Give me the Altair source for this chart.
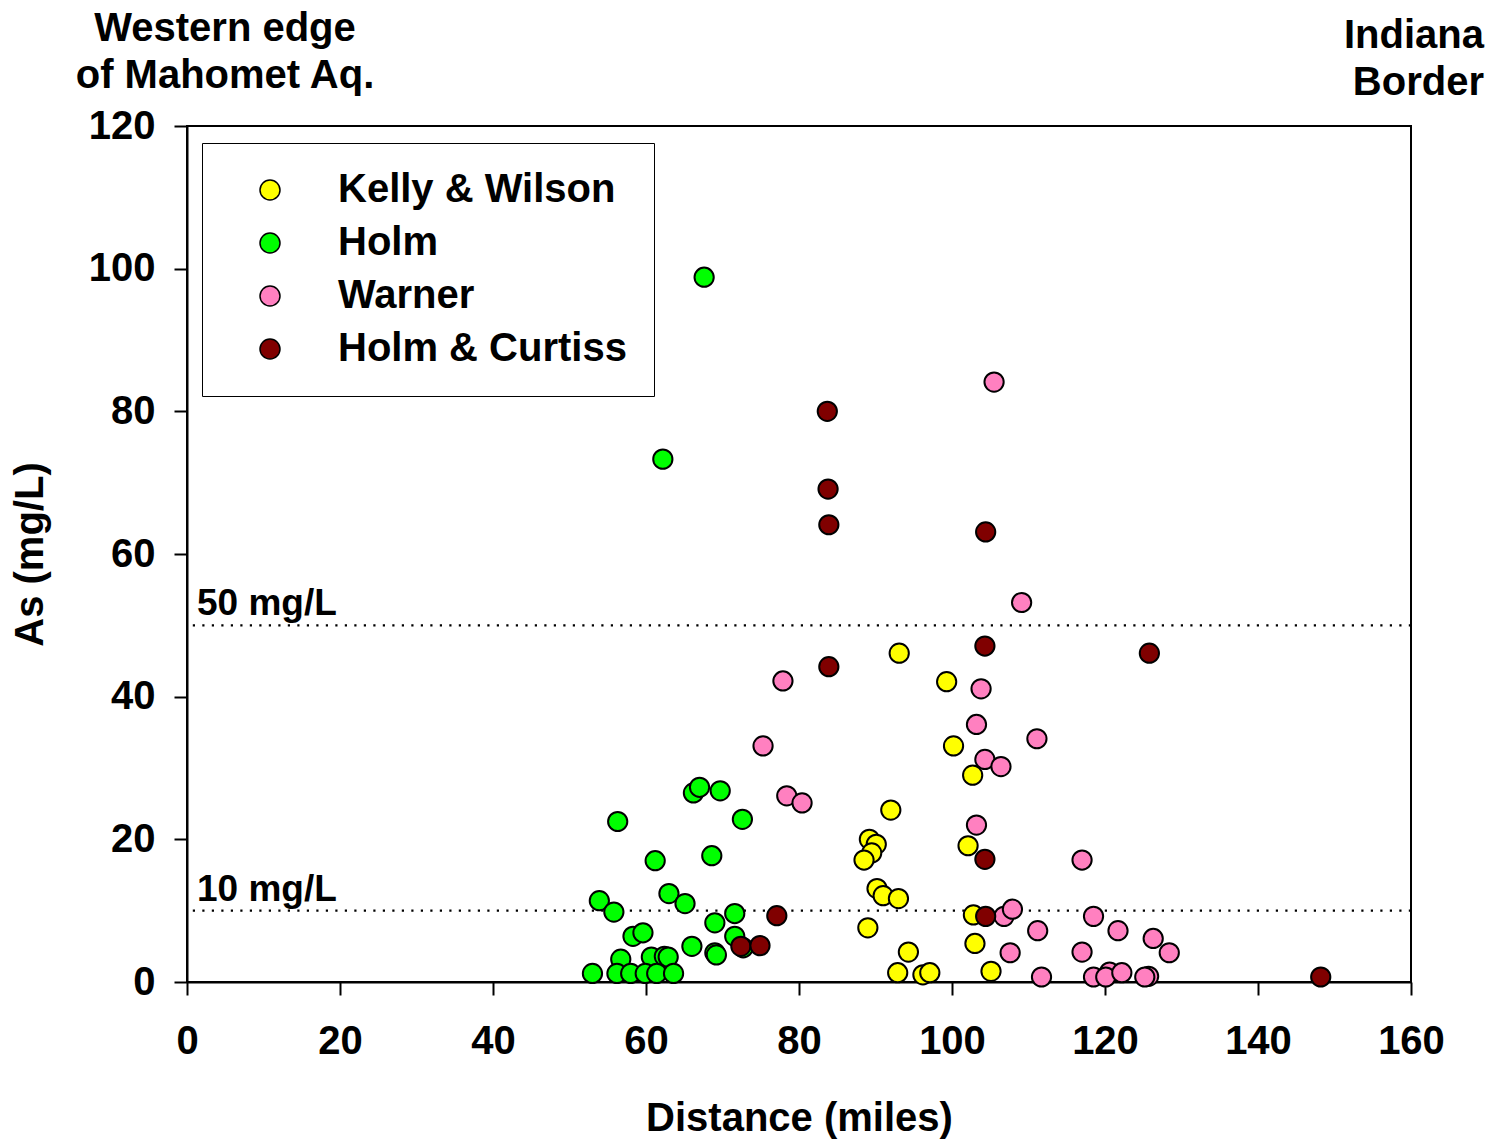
import altair as alt
import pandas as pd

# ---- data ----
series_order = ["Kelly & Wilson", "Holm", "Warner", "Holm & Curtiss"]
series_colors = ["#FFFF00", "#00FF00", "#FF80C0", "#800000"]

kw_x = [93.1, 99.3, 100.2, 102.7, 92.0, 89.2, 90.1, 89.5, 88.5, 102.1, 90.2, 91.0, 93.0,
        89.0, 102.8, 103.0, 94.3, 92.9, 96.2, 97.1, 105.1]
kw_y = [46.1, 42.1, 33.1, 29.0, 24.1, 20.0, 19.3, 18.1, 17.1, 19.1, 13.1, 12.1, 11.7,
        7.6, 9.4, 5.4, 4.2, 1.3, 1.0, 1.3, 1.5]

holm_x = [67.6, 62.2, 66.2, 67.0, 69.7, 56.3, 72.6, 61.2, 68.6, 63.0, 65.1, 53.9, 55.8,
          71.6, 69.0, 58.3, 59.6, 71.6, 66.0, 69.0, 69.2, 72.7, 56.7, 60.7, 62.4, 62.9,
          53.0, 56.2, 58.0, 59.9, 61.4, 63.6]
holm_y = [98.8, 73.3, 26.5, 27.3, 26.8, 22.5, 22.8, 17.0, 17.7, 12.4, 11.0, 11.4, 9.8,
          9.6, 8.3, 6.4, 6.9, 6.4, 5.0, 4.1, 3.8, 4.8, 3.2, 3.5, 3.6, 3.5,
          1.2, 1.2, 1.2, 1.2, 1.2, 1.2]

warner_x = [105.5, 109.1, 77.9, 103.8, 103.2, 75.3, 111.1, 104.3, 106.4, 78.4, 80.4, 103.2,
            117.0, 106.8, 107.9, 118.5, 111.2, 121.7, 126.3, 107.6, 117.0, 128.4, 111.7,
            118.5, 120.6, 120.1, 122.2, 125.7, 125.2]
warner_y = [84.1, 53.2, 42.2, 41.1, 36.1, 33.1, 34.1, 31.2, 30.2, 26.1, 25.1, 22.0,
            17.1, 9.2, 10.2, 9.2, 7.2, 7.2, 6.1, 4.1, 4.2, 4.1, 0.7,
            0.7, 1.4, 0.7, 1.3, 0.8, 0.7]

hc_x = [83.7, 83.8, 83.9, 104.4, 83.9, 104.3, 125.8, 104.3, 104.4, 77.1, 72.4, 74.9, 148.2]
hc_y = [80.0, 69.1, 64.1, 63.1, 44.2, 47.1, 46.1, 17.2, 9.2, 9.3, 5.0, 5.1, 0.7]

limits = [50, 10]
limit_labels = ["50 mg/L", "10 mg/L"]

x_ticks = [0, 20, 40, 60, 80, 100, 120, 140, 160]
y_ticks = [0, 20, 40, 60, 80, 100, 120]

left_note = ["Western edge", "of Mahomet Aq."]
right_note = ["Indiana", "Border"]

# ---- tables ----
rows = []
for name, xs, ys in [("Warner", warner_x, warner_y), ("Holm", holm_x, holm_y),
                     ("Kelly & Wilson", kw_x, kw_y), ("Holm & Curtiss", hc_x, hc_y)]:
    for xv, yv in zip(xs, ys):
        rows.append({"series": name, "distance": xv, "arsenic": yv})
df = pd.DataFrame(rows)
df_lim = pd.DataFrame({"limit": limits, "label": limit_labels})
one = pd.DataFrame({"k": [0]})

FONT = "Liberation Sans"

x_scale = alt.Scale(domain=[0, 160], nice=False, zero=False)
y_scale = alt.Scale(domain=[0, 120], nice=False, zero=False)

points = alt.Chart(df).mark_circle(
    size=370, stroke="black", strokeWidth=2, opacity=1, fillOpacity=1
).encode(
    x=alt.X("distance:Q", scale=x_scale,
            axis=alt.Axis(values=x_ticks, title="Distance (miles)", titleY=148,
                          titleBaseline="alphabetic", labelPadding=26)),
    y=alt.Y("arsenic:Q", scale=y_scale,
            axis=alt.Axis(values=y_ticks, title="As (mg/L)", titleX=-145, titleY=428,
                          titleAngle=-90, titleAlign="center", titleBaseline="alphabetic",
                          labelPadding=19)),
    fill=alt.Fill("series:N",
                  scale=alt.Scale(domain=series_order, range=series_colors),
                  legend=alt.Legend(orient="none", legendX=15, legendY=17, title=None,
                                    padding=27, strokeColor="black", fillColor="white",
                                    symbolType="circle", symbolSize=400,
                                    symbolStrokeColor="black", symbolStrokeWidth=1.5,
                                    symbolOpacity=1, symbolOffset=21, labelOffset=48,
                                    labelFont=FONT, labelFontSize=40, labelFontWeight="bold",
                                    labelColor="black", labelLimit=800, rowPadding=13)),
)

rules = alt.Chart(df_lim).mark_rule(color="black", strokeWidth=2.2, strokeDash=[2.2, 7.3]).encode(
    y=alt.Y("limit:Q", scale=y_scale)
)

rule_text = alt.Chart(df_lim).mark_text(
    font=FONT, fontSize=37, fontWeight="bold", color="black",
    align="left", baseline="alphabetic", dy=-10
).encode(
    x=alt.value(10),
    y=alt.Y("limit:Q", scale=y_scale),
    text="label:N",
)

note_left = alt.Chart(one).mark_text(
    text=left_note, font=FONT, fontSize=40, fontWeight="bold", color="black",
    align="center", baseline="alphabetic", lineHeight=47
).encode(x=alt.value(38), y=alt.value(-85))

note_right = alt.Chart(one).mark_text(
    text=right_note, font=FONT, fontSize=40, fontWeight="bold", color="black",
    align="right", baseline="alphabetic", lineHeight=47
).encode(x=alt.value(1297), y=alt.value(-78))

chart = alt.layer(rules, rule_text, points, note_left, note_right).properties(
    width=1224, height=856,
    autosize=alt.AutoSizeParams(type="none"),
    padding={"left": 187, "top": 126, "right": 79, "bottom": 157},
    background="white",
).configure_view(
    stroke="black", strokeWidth=2
).configure_axis(
    grid=False, domainColor="black", domainWidth=2, tickColor="black", tickWidth=2,
    tickSize=13, labelFont=FONT, labelFontSize=40, labelFontWeight="bold",
    labelColor="black", titleFont=FONT, titleFontSize=40, titleFontWeight="bold",
    titleColor="black", labelFlush=False, labelOverlap=False
)

chart.save("out.html", embed_options={"renderer": "svg", "actions": False})
